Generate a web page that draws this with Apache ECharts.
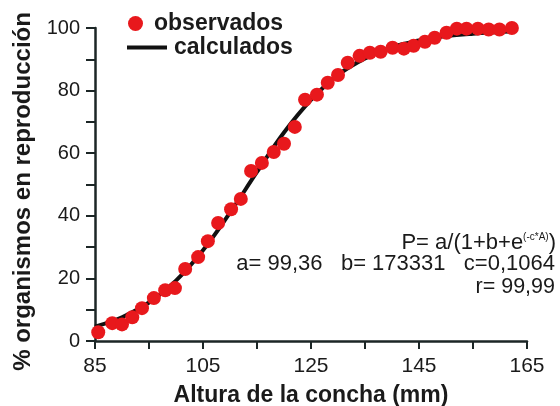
<!DOCTYPE html>
<html>
<head>
<meta charset="utf-8">
<script src="https://cdn.jsdelivr.net/npm/echarts@6/dist/echarts.min.js"></script>
<style>
html,body{margin:0;padding:0;background:#fff;}
#chart{width:560px;height:406px;}
</style>
</head>
<body>
<div id="chart"></div>
<script>
// Observed points: shell height (mm) and % reproducing
const obsLength = [85.6, 88.2, 90.0, 91.9, 93.7, 95.9, 98.0, 99.8, 101.7, 104.1, 105.9, 107.8, 110.2, 112.0, 113.9, 115.9, 118.1, 120.0, 122.0, 123.9, 126.1, 128.1, 130.0, 131.8, 134.0, 135.9, 137.9, 140.1, 142.2, 144.0, 146.1, 147.9, 150.1, 152.0, 153.8, 155.9, 157.9, 159.9, 162.2];
const obsPercent = [2.8, 5.7, 5.3, 7.6, 10.5, 13.7, 16.2, 16.9, 23.0, 26.8, 31.9, 37.7, 42.1, 45.4, 54.3, 56.9, 60.4, 63.0, 68.4, 77.1, 78.7, 82.5, 85.0, 88.9, 91.1, 92.1, 92.4, 93.7, 93.4, 94.3, 95.6, 96.9, 98.5, 99.8, 99.8, 99.8, 99.5, 99.5, 100.0];
// Fitted curve
const calcLength = [85, 90, 95, 100, 105, 110, 115, 120, 125, 130, 135, 140, 145, 150, 155, 160, 162];
const calcPercent = [4.6, 7.6, 12.3, 19.3, 29.0, 41.0, 54.0, 66.6, 77.0, 85.0, 90.3, 93.9, 96.0, 97.4, 98.2, 98.7, 98.9];
// Axis ticks
const xMin = 85, xMax = 165, xStep = 10, xLabelStep = 20;
const yMin = 0, yMax = 100, yStep = 10, yLabelStep = 20;
// Labels
const seriesNames = ['observados', 'calculados'];
const xTitle = 'Altura de la concha (mm)';
const yTitle = '% organismos en reproducción';
const eqLine = ['P= a/(1+b+e', '(-c*A)', ')'];
const paramLine = 'a= 99,36   b= 173331   c=0,1064';
const rLine = 'r= 99,99';

const FONT = '"Liberation Sans", Arial, Helvetica, sans-serif';
const AX = '#1c2626';
const TXT = '#1a1a1a';

const chart = echarts.init(document.getElementById('chart'), null, {renderer: 'canvas'});
chart.setOption({
  backgroundColor: '#ffffff',
  animation: false,
  textStyle: {fontFamily: FONT},
  grid: {left: 95, right: 33, top: 28, bottom: 65, containLabel: false, outerBoundsMode: 'none'},
  legend: [
    {
      left: 123, top: 7, itemWidth: 15, itemHeight: 15, selectedMode: false,
      data: [{name: seriesNames[0], icon: 'circle'}],
      textStyle: {fontFamily: FONT, fontSize: 23, fontWeight: 'bold', color: TXT, padding: [0, 0, 0, 6]}
    },
    {
      left: 122, top: 31, itemWidth: 40, itemHeight: 4, selectedMode: false,
      data: [{name: seriesNames[1], icon: 'rect'}],
      textStyle: {fontFamily: FONT, fontSize: 23, fontWeight: 'bold', color: TXT, padding: [0, 0, 0, 2]}
    }
  ],
  xAxis: {
    type: 'value', min: xMin, max: xMax, interval: xStep,
    name: xTitle, nameLocation: 'middle', nameGap: 43,
    nameTextStyle: {fontFamily: FONT, fontSize: 23, fontWeight: 'bold', color: TXT},
    axisLine: {show: true, onZero: false, lineStyle: {color: AX, width: 2.5}},
    axisTick: {show: true, length: 8, lineStyle: {color: AX, width: 2}},
    axisLabel: {
      fontFamily: FONT, fontSize: 21, color: TXT, margin: 15,
      showMinLabel: true, showMaxLabel: true,
      formatter: v => ((Math.round(v - xMin) % xLabelStep) === 0 ? String(Math.round(v)) : '')
    },
    splitLine: {show: false}
  },
  yAxis: {
    type: 'value', min: yMin, max: yMax, interval: yStep,
    name: yTitle, nameLocation: 'middle', nameGap: 43, nameRotate: 90,
    nameTextStyle: {fontFamily: FONT, fontSize: 24, fontWeight: 'bold', color: TXT, padding: [0, 14, 0, 0]},
    axisLine: {show: true, lineStyle: {color: AX, width: 2.5}},
    axisTick: {show: true, length: 9, lineStyle: {color: AX, width: 2}},
    axisLabel: {
      fontFamily: FONT, fontSize: 20, color: TXT, margin: 15,
      formatter: v => ((Math.round(v - yMin) % yLabelStep) === 0 ? String(Math.round(v)) : '')
    },
    splitLine: {show: false}
  },
  graphic: [
    {
      type: 'text', right: 4, top: 231,
      style: {
        text: '{n|' + eqLine[0] + '}{s|' + eqLine[1] + '}{n|' + eqLine[2] + '}',
        rich: {
          n: {fontFamily: FONT, fontSize: 22, fill: TXT, lineHeight: 24},
          s: {fontFamily: FONT, fontSize: 10, fill: TXT, lineHeight: 24, verticalAlign: 'top', padding: [1, 0, 0, 0]}
        }
      }
    },
    {
      type: 'text', right: 5, top: 253,
      style: {text: paramLine, fontFamily: FONT, fontSize: 22, fill: TXT}
    },
    {
      type: 'text', right: 5, top: 276,
      style: {text: rLine, fontFamily: FONT, fontSize: 21.5, fill: TXT}
    }
  ],
  series: [
    {
      name: seriesNames[0], type: 'scatter', symbol: 'circle', symbolSize: 14, z: 3,
      itemStyle: {color: '#e8181c', opacity: 1},
      data: obsLength.map((x, i) => [x, obsPercent[i]])
    },
    {
      name: seriesNames[1], type: 'line', smooth: 0.4, showSymbol: false, symbol: 'none', z: 2,
      color: '#111111',
      lineStyle: {color: '#111111', width: 4},
      itemStyle: {color: '#111111'},
      data: calcLength.map((x, i) => [x, calcPercent[i]])
    }
  ]
});
</script>
</body>
</html>
